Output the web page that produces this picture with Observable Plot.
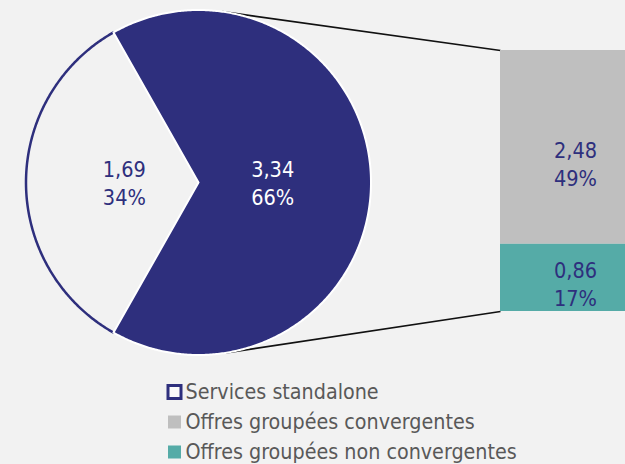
<!DOCTYPE html>
<html>
<head>
<meta charset="utf-8">
<script src="https://cdn.jsdelivr.net/npm/d3@7"></script>
<script src="https://cdn.jsdelivr.net/npm/@observablehq/plot@0.6"></script>
<style>
  html, body { margin: 0; padding: 0; background: #F2F2F2; }
  #chart svg { display: block; }
</style>
</head>
<body>
<div id="chart"></div>
<script>
// ---- data ----
const pieCategories = ["Offres groupées", "Services standalone"];
const pieValues = [3.34, 1.69];
const piePercents = ["66%", "34%"];
const barCategories = ["Offres groupées convergentes", "Offres groupées non convergentes"];
const barValues = [2.48, 0.86];
const barPercents = ["49%", "17%"];
const legendLabels = ["Services standalone", "Offres groupées convergentes", "Offres groupées non convergentes"];

// ---- styles ----
const NAVY = "#2E2F7D", GREY = "#BFBFBF", TEAL = "#55ABA7", BG = "#F2F2F2";
const FONT = "'DejaVu Sans Condensed', 'DejaVu Sans', sans-serif";
const fmt = v => v.toFixed(2).replace(".", ",");

// ---- layout ----
const W = 625, H = 464;
const cx = 198, cy = 182, R = 172.5;
const barX1 = 500, barX2 = 650, barTop = 50, barH = 261;

// pie geometry via d3.pie (angle 0 at top, clockwise)
const total = d3.sum(pieValues);
const start = Math.PI / 2 - (pieValues[0] / total) * Math.PI;
const arcs = d3.pie().sort(null).startAngle(start).endAngle(start + 2 * Math.PI)(pieValues);
const pt = (a, r = R) => ({x: cx + r * Math.sin(a), y: cy - r * Math.cos(a)});
function slicePoly(arc, key) {
  const pts = [{...pt(0, 0), key}];
  const n = Math.max(8, Math.ceil((arc.endAngle - arc.startAngle) / (Math.PI / 360)));
  for (let i = 0; i <= n; i++) pts.push({...pt(arc.startAngle + (arc.endAngle - arc.startAngle) * i / n), key});
  pts.push({...pt(0, 0), key});
  return pts;
}
function arcLine(arc, key) {
  const pts = [];
  const n = Math.ceil((arc.endAngle - arc.startAngle) / (Math.PI / 360));
  for (let i = 0; i <= n; i++) pts.push({...pt(arc.startAngle + (arc.endAngle - arc.startAngle) * i / n), key});
  return pts;
}
const darkPoly = slicePoly(arcs[0], pieCategories[0]);
const lightPoly = slicePoly(arcs[1], pieCategories[1]);
const lightArc = arcLine(arcs[1], pieCategories[1]);

const pieLabels = arcs.map((a, i) => {
  const mid = (a.startAngle + a.endAngle) / 2;
  return {...pt(mid, R * 0.43), text: fmt(pieValues[i]) + "\n" + piePercents[i], color: i === 0 ? "#FFFFFF" : NAVY};
});

// bar segments
const barTotal = d3.sum(barValues);
const k = barH / barTotal;
let acc = 0;
const barSegs = barValues.map((v, i) => {
  const y1 = barTop + acc * k; acc += v; const y2 = barTop + acc * k;
  return {cat: barCategories[i], y1, y2, x1: barX1, x2: barX2, fill: i === 0 ? GREY : TEAL,
          text: fmt(v) + "\n" + barPercents[i], ly: y1 + 0.58 * (y2 - y1), lx: (barX1 + barX2) / 2};
});

// connector lines: tangents from bar corners to circle
function tangent(px, py, sign) {
  const dx = px - cx, dy = py - cy, d = Math.hypot(dx, dy);
  const phi = Math.atan2(dy, dx), alpha = Math.acos(R / d);
  const th = phi + sign * alpha;
  return {x: cx + R * Math.cos(th), y: cy + R * Math.sin(th)};
}
const tTop = tangent(barX1, barTop, -1), tBot = tangent(barX1, barTop + barH, 1);
const connectors = [
  {x1: tTop.x, y1: tTop.y, x2: barX1, y2: barTop},
  {x1: tBot.x, y1: tBot.y, x2: barX1, y2: barTop + barH}
];

// legend
const legX = 168, legS = 13, legRows = [392, 422, 452];
const legend = legendLabels.map((t, i) => ({t, y: legRows[i], i}));

const chart = Plot.plot({
  width: W, height: H, margin: 0,
  x: {domain: [0, W], range: [0, W], axis: null},
  y: {domain: [0, H], range: [0, H], axis: null},
  style: {background: BG, fontFamily: FONT},
  marks: [
    Plot.link(connectors, {x1: "x1", y1: "y1", x2: "x2", y2: "y2", stroke: "#111111", strokeWidth: 1.7}),
    Plot.line(lightPoly, {x: "x", y: "y", fill: BG, stroke: "none"}),
    Plot.line(lightArc, {x: "x", y: "y", stroke: NAVY, strokeWidth: 2.5, curve: "linear"}),
    Plot.line(darkPoly, {x: "x", y: "y", fill: NAVY, stroke: "#FFFFFF", strokeWidth: 2, strokeLinejoin: "round"}),
    Plot.text(pieLabels, {x: "x", y: "y", text: "text", fill: "color", fontSize: 21.5, lineHeight: 1.3}),
    Plot.rect(barSegs, {x1: "x1", x2: "x2", y1: "y1", y2: "y2", fill: "fill"}),
    Plot.text(barSegs, {x: "lx", y: "ly", text: "text", fill: NAVY, fontSize: 21.5, lineHeight: 1.3}),
    Plot.rect(legend, {x1: legX, x2: legX + legS, y1: d => d.y - legS / 2, y2: d => d.y + legS / 2,
      fill: d => d.i === 0 ? "#FAFAFA" : d.i === 1 ? GREY : TEAL,
      stroke: d => d.i === 0 ? NAVY : "none", strokeWidth: 3,
      inset: 0}),
    Plot.text(legend, {x: legX + legS + 4, y: "y", text: "t", textAnchor: "start", fill: "#595959", fontSize: 21.3})
  ]
});
document.getElementById("chart").appendChild(chart);
</script>
</body>
</html>
